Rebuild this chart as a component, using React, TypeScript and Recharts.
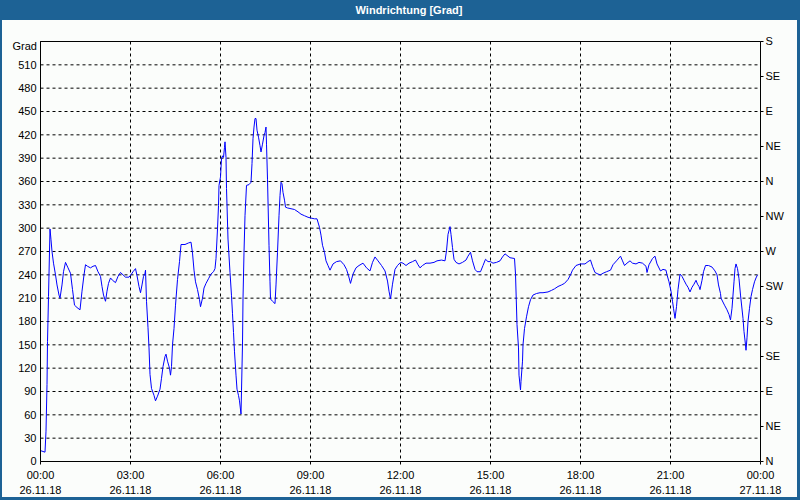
import { LineChart, Line, XAxis, YAxis, CartesianGrid, ReferenceLine } from "recharts";

// minutes since 26.11.18 00:00
const minutes = [
  0, 9, 11, 13, 14, 16, 19, 21, 23, 26, 30, 33, 37, 39, 43, 46, 50, 55, 60, 64, 68, 73, 79, 83, 87, 90, 94, 100,
  105, 110, 115, 120, 123, 126, 130, 133, 136, 140, 144, 150, 155, 160, 165, 170, 177, 182, 185, 190, 193, 197,
  200, 203, 206, 209, 210, 212, 215, 217, 219, 222, 227, 230, 234, 239, 242, 245, 249, 251, 254, 258, 260, 262,
  264, 267, 270, 274, 278, 281, 289, 296, 301, 304, 307, 310, 314, 318, 320, 324, 327, 331, 336, 341, 346, 349,
  351, 354, 356, 357, 360, 362, 364, 366, 368, 369, 371, 372, 375, 379, 382, 384, 386, 388, 391, 393, 396, 398,
  401, 402, 404, 405, 407, 409, 412, 417, 421, 423, 425, 427, 429, 431, 433, 436, 439, 441, 444, 447, 449, 451,
  452, 454, 457, 459, 460, 464, 469, 471, 474, 477, 479, 481, 483, 485, 488, 490, 494, 501, 508, 515, 521, 528,
  535, 541, 548, 553, 558, 561, 564, 568, 571, 575, 579, 585, 592, 600, 607, 612, 616, 620, 625, 631, 637, 645,
  652, 659, 664, 669, 675, 682, 689, 694, 697, 700, 704, 709, 714, 720, 725, 731, 737, 744, 750, 755, 759, 764,
  771, 779, 787, 793, 802, 809, 812, 815, 819, 821, 824, 827, 831, 837, 844, 851, 855, 860, 864, 869, 873, 880,
  885, 890, 895, 900, 905, 912, 919, 924, 929, 933, 939, 948, 950, 953, 956, 957, 960, 961, 964, 965, 968, 972,
  976, 980, 985, 992, 999, 1005, 1015, 1022, 1028, 1035, 1042, 1048, 1055, 1060, 1064, 1071, 1080, 1089, 1095,
  1100, 1104, 1109, 1115, 1120, 1125, 1132, 1140, 1145, 1152, 1160, 1164, 1168, 1173, 1179, 1184, 1191, 1197,
  1204, 1211, 1213, 1217, 1224, 1229, 1233, 1240, 1245, 1251, 1253, 1257, 1261, 1264, 1266, 1269, 1272, 1275,
  1279, 1283, 1287, 1291, 1295, 1299, 1303, 1307, 1311, 1314, 1317, 1319, 1323, 1326, 1330, 1336, 1343, 1349,
  1353, 1356, 1360, 1361, 1368, 1373, 1377, 1380, 1383, 1387, 1389, 1391, 1394, 1397, 1400, 1405, 1407, 1410,
  1411, 1413, 1415, 1418, 1421, 1424, 1428, 1431, 1434,
];

const degrees = [
  14, 12, 39, 99, 154, 212, 299, 285, 270, 255, 240, 227, 214, 210, 227, 244, 256, 249, 242, 221, 201, 198, 195,
  219, 240, 253, 251, 249, 251, 252, 244, 238, 225, 214, 206, 219, 229, 236, 233, 230, 238, 243, 240, 237, 237,
  241, 244, 248, 239, 225, 217, 227, 238, 242, 246, 206, 172, 146, 112, 94, 85, 78, 84, 93, 107, 122, 135, 138,
  129, 120, 111, 122, 150, 171, 201, 234, 257, 279, 279, 281, 282, 268, 246, 231, 221, 208, 199, 210, 223, 229,
  235, 241, 244, 248, 261, 299, 329, 355, 366, 389, 393, 391, 404, 411, 391, 351, 286, 243, 213, 190, 166, 141,
  111, 93, 85, 78, 61, 91, 151, 209, 269, 316, 355, 356, 359, 383, 415, 430, 441, 441, 426, 417, 406, 398, 408,
  419, 423, 430, 408, 363, 278, 231, 209, 206, 203, 227, 269, 316, 342, 359, 357, 346, 336, 327, 326, 325, 324,
  321, 318, 316, 314, 313, 312, 312, 301, 291, 278, 269, 258, 252, 246, 254, 257, 258, 253, 247, 239, 229, 241,
  249, 252, 255, 249, 245, 256, 263, 258, 252, 245, 232, 219, 209, 228, 247, 252, 256, 255, 252, 255, 257, 259,
  253, 249, 252, 255, 255, 256, 258, 259, 258, 271, 292, 302, 292, 275, 260, 256, 254, 256, 259, 264, 269, 258,
  247, 244, 244, 252, 260, 257, 257, 255, 256, 258, 263, 267, 265, 262, 261, 241, 176, 146, 111, 92, 103, 129,
  150, 171, 186, 199, 208, 214, 216, 217, 217, 218, 220, 222, 225, 227, 229, 234, 240, 246, 252, 254, 254, 257,
  259, 251, 243, 241, 240, 242, 244, 246, 253, 258, 264, 258, 252, 255, 258, 255, 254, 256, 255, 251, 243, 253,
  261, 264, 254, 245, 247, 246, 240, 231, 219, 206, 197, 184, 199, 221, 241, 238, 233, 228, 224, 218, 224, 228,
  233, 228, 225, 221, 233, 244, 252, 252, 250, 245, 240, 227, 216, 210, 201, 195, 189, 182, 197, 231, 248, 254,
  248, 235, 214, 184, 167, 150, 143, 159, 180, 197, 212, 221, 231, 236, 240,
];

const timeTicks = [0, 180, 360, 540, 720, 900, 1080, 1260, 1440];
const timeLabels = ["00:00", "03:00", "06:00", "09:00", "12:00", "15:00", "18:00", "21:00", "00:00"];
const dateLabels = ["26.11.18", "26.11.18", "26.11.18", "26.11.18", "26.11.18", "26.11.18", "26.11.18", "26.11.18", "27.11.18"];

const degreeTicks = [0, 30, 60, 90, 120, 150, 180, 210, 240, 270, 300, 330, 360, 390, 420, 450, 480, 510];
const compassTicks = [0, 45, 90, 135, 180, 225, 270, 315, 360, 405, 450, 495, 540];
const compassLabels = ["N", "NE", "E", "SE", "S", "SW", "W", "NW", "N", "NE", "E", "SE", "S"];

const data = minutes.map((t, i) => ({ t, v: degrees[i] }));

const FONT = "'Liberation Sans', Arial, sans-serif";
const BLUE = "#1d6295";

function TimeTick({ x, y, payload }: any) {
  const i = timeTicks.indexOf(payload.value);
  return (
    <g>
      <text x={x} y={y} dy={12.5} textAnchor="middle" fontSize={11} fontFamily={FONT} fill="#000">
        {timeLabels[i]}
      </text>
      <text x={x} y={y} dy={27.5} textAnchor="middle" fontSize={11} fontFamily={FONT} fill="#000">
        {dateLabels[i]}
      </text>
    </g>
  );
}

export default function App() {
  return (
    <div style={{ position: "absolute", left: 0, top: 0, width: 800, height: 500, background: BLUE, fontFamily: FONT }}>
      <div
        style={{
          position: "absolute",
          left: 0,
          top: 0,
          width: 800,
          height: 20,
          lineHeight: "20px",
          color: "#fff",
          fontWeight: "bold",
          fontSize: 11,
          textAlign: "center",
          paddingLeft: 18,
          boxSizing: "border-box",
        }}
      >
        Windrichtung [Grad]
      </div>
      <div style={{ position: "absolute", left: 2, top: 20, width: 795, height: 477, background: "#fbfdfb" }} />
      <div style={{ position: "absolute", left: 0, top: 40, width: 37, textAlign: "right", fontSize: 11, color: "#000" }}>
        Grad
      </div>
      <div style={{ position: "absolute", left: 0, top: 0 }}>
        <LineChart width={800} height={500} data={data} margin={{ top: 41.5, right: 0, bottom: 0, left: 0 }}>
          <CartesianGrid stroke="#000" strokeDasharray="3 3" yAxisId="deg" />
          <XAxis
            dataKey="t"
            type="number"
            domain={[0, 1440]}
            ticks={timeTicks}
            interval={0}
            height={38.5}
            tickSize={3}
            tickMargin={2}
            stroke="#000"
            tick={<TimeTick />}
          />
          <YAxis
            yAxisId="deg"
            type="number"
            domain={[0, 540]}
            ticks={degreeTicks}
            interval={0}
            width={40.5}
            tickSize={0}
            tickMargin={4}
            stroke="#000"
            tick={{ fontSize: 11, fontFamily: FONT, fill: "#000" }}
          />
          <YAxis
            yAxisId="dir"
            orientation="right"
            type="number"
            domain={[0, 540]}
            ticks={compassTicks}
            interval={0}
            width={39.5}
            tickSize={3}
            tickMargin={2}
            stroke="#000"
            tickFormatter={(v: number) => compassLabels[compassTicks.indexOf(v)]}
            tick={{ fontSize: 11, fontFamily: FONT, fill: "#000" }}
          />
          <ReferenceLine yAxisId="deg" y={540} stroke="#000" />
          <Line
            yAxisId="dir"
            type="linear"
            dataKey="v"
            stroke="none"
            dot={false}
            activeDot={false}
            isAnimationActive={false}
          />
          <Line
            yAxisId="deg"
            type="linear"
            dataKey="v"
            stroke="#0000ff"
            strokeWidth={1}
            dot={false}
            isAnimationActive={false}
          />
        </LineChart>
      </div>
    </div>
  );
}
